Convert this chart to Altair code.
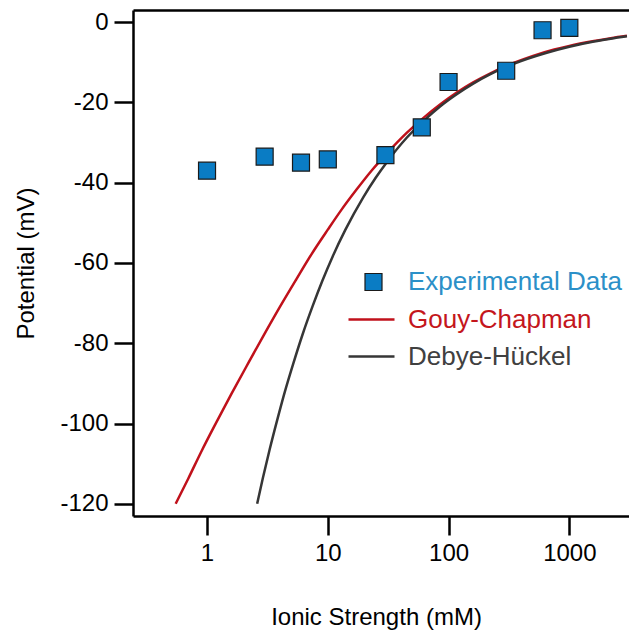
import altair as alt
import pandas as pd

# Experimental data (ionic strength in mM, potential in mV)
exp_x = [1, 3, 6, 10, 30, 60, 100, 300, 600, 1000]
exp_y = [-37.0, -33.5, -35.0, -34.2, -33.1, -26.2, -14.9, -12.1, -2.0, -1.4]

# Gouy-Chapman curve
gc_x = [0.55, 0.7, 0.9, 1.2, 1.6, 2.2, 3.0, 4.0, 5.5, 7.3, 10, 13, 17.3, 23, 30.6,
        45, 61.6, 85, 116, 160, 220, 350, 500, 750, 1000, 1600, 2200, 3000]
gc_y = [-120, -113.7, -106.9, -99.6, -92.5, -84.9, -77.6, -71.0, -64.0, -57.9, -51.7,
        -46.7, -41.7, -37.0, -32.8, -27.6, -23.9, -20.5, -17.6, -15.0, -12.8, -10.1,
        -8.4, -6.8, -5.9, -4.7, -4.0, -3.4]

# Debye-Hückel curve
dh_x = [2.6, 2.9, 3.3, 3.8, 4.4, 5.2, 6.2, 7.5, 9, 11, 14, 19.6, 25, 30.6, 45,
        61.6, 85, 116, 160, 220, 350, 650, 1000, 1600, 2200, 3000]
dh_y = [-120, -113.6, -106.5, -99.3, -92.2, -84.9, -77.7, -70.7, -64.5, -58.3, -51.7,
        -43.7, -38.7, -35.0, -28.8, -24.7, -21.0, -18.0, -15.3, -13.0, -10.3, -7.6,
        -6.1, -4.8, -4.1, -3.5]

x_ticks = [1, 10, 100, 1000]
y_ticks = [0, -20, -40, -60, -80, -100, -120]

exp_df = pd.DataFrame({"I": exp_x, "psi": exp_y, "series": "Experimental Data"})
gc_df = pd.DataFrame({"I": gc_x, "psi": gc_y, "series": "Gouy-Chapman"})
dh_df = pd.DataFrame({"I": dh_x, "psi": dh_y, "series": "Debye-Hückel"})

FONT = "Liberation Sans"

x_scale = alt.Scale(type="log", domain=[0.2438, 3119], nice=False)
y_scale = alt.Scale(domain=[-123.05, 3.04], nice=False, zero=False)

y_axis = alt.Axis(values=y_ticks, labelExpr="datum.value + ''", title="Potential (mV)",
                  grid=False, labelFont=FONT, labelFontSize=24, labelColor="black",
                  labelPadding=6, tickSize=19, tickWidth=2.5, tickColor="black",
                  domainColor="black", domainWidth=2.5,
                  titleFont=FONT, titleFontSize=24, titleFontWeight="normal",
                  titleColor="black", titleX=-95)

x_axis_bottom = alt.Axis(values=x_ticks, format="d", title="Ionic Strength (mM)",
                         grid=False, labelFont=FONT, labelFontSize=24,
                         labelColor="black", labelPadding=6, tickSize=19,
                         tickWidth=2.5, tickColor="black", domainColor="black",
                         domainWidth=2.5, titleFont=FONT, titleFontSize=24,
                         titleFontWeight="normal", titleColor="black",
                         titleX=243, titleY=108, titleBaseline="alphabetic")

x_axis_top = alt.Axis(orient="top", labels=False, ticks=False, title=None,
                      grid=False, domain=True, domainColor="black", domainWidth=2.5)

gc = alt.Chart(gc_df).mark_line(strokeWidth=2.5, interpolate="monotone").encode(
    x=alt.X("I:Q", scale=x_scale, axis=x_axis_top),
    y=alt.Y("psi:Q", scale=y_scale, axis=y_axis),
    stroke=alt.Stroke("series:N",
                      scale=alt.Scale(domain=["Gouy-Chapman"], range=["#c0111b"]),
                      legend=alt.Legend(orient="none", legendX=214, legendY=285,
                                        title=None, labelFont=FONT, labelFontSize=26,
                                        labelColor="#c4161c", labelLimit=400,
                                        symbolType="stroke", symbolSize=2116,
                                        symbolStrokeWidth=2.5, labelOffset=12)),
)

dh = alt.Chart(dh_df).mark_line(strokeWidth=2.5, interpolate="monotone").encode(
    x=alt.X("I:Q", scale=x_scale, axis=None),
    y=alt.Y("psi:Q", scale=y_scale, axis=y_axis),
    stroke=alt.Stroke("series:N",
                      scale=alt.Scale(domain=["Debye-Hückel"], range=["#363636"]),
                      legend=alt.Legend(orient="none", legendX=214, legendY=322,
                                        title=None, labelFont=FONT, labelFontSize=26,
                                        labelColor="#404040", labelLimit=400,
                                        symbolType="stroke", symbolSize=2116,
                                        symbolStrokeWidth=2.5, labelOffset=12)),
)

points = alt.Chart(exp_df).mark_square(size=289, opacity=1, stroke="#1a1a1a",
                                       strokeWidth=1.2).encode(
    x=alt.X("I:Q", scale=x_scale, axis=x_axis_bottom),
    y=alt.Y("psi:Q", scale=y_scale, axis=y_axis),
    fill=alt.Fill("series:N",
                  scale=alt.Scale(domain=["Experimental Data"], range=["#0a7cc4"]),
                  legend=alt.Legend(orient="none", legendX=227.5, legendY=259,
                                    title=None, labelFont=FONT, labelFontSize=26,
                                    labelColor="#2b90c8", labelLimit=400,
                                    symbolType="square",
                                    symbolSize=289, symbolStrokeColor="#1a1a1a",
                                    symbolStrokeWidth=1.2, symbolOpacity=1,
                                    labelOffset=21.5)),
)

chart = alt.layer(gc, dh, points).resolve_axis(x="independent").resolve_scale(
    stroke="independent", fill="independent"
).properties(
    width=496, height=506,
    autosize=alt.AutoSizeParams(type="none"),
    padding={"left": 125, "top": 2, "right": 0, "bottom": 114},
    background="white",
).configure_view(stroke=None)

chart.save("out.html", embed_options={"renderer": "svg", "actions": False})
